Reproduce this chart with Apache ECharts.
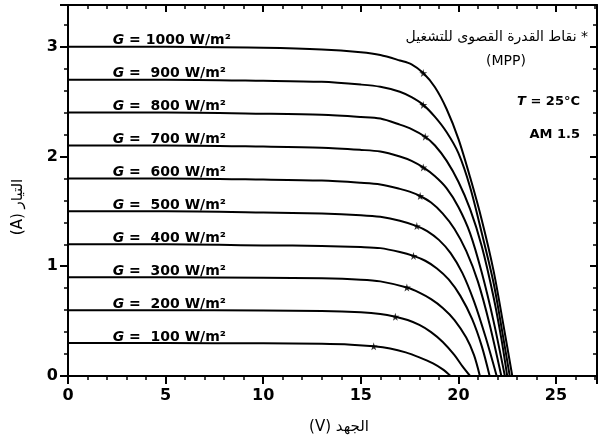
<!DOCTYPE html>
<html>
<head>
<meta charset="utf-8">
<script src="https://cdn.jsdelivr.net/npm/echarts@6/dist/echarts.min.js"></script>
<style>
  html, body { margin: 0; padding: 0; background: #fff; }
  #chart { width: 599px; height: 442px; }
</style>
</head>
<body>
<div id="chart"></div>
<script>
// irradiance levels, W/m²
const levels = [1000, 900, 800, 700, 600, 500, 400, 300, 200, 100]

// I-V curves: [voltage V, current A]
const curve1000 = [[0,3.00],[5,3.00],[10,2.99],[13,2.975],[15,2.95],[16,2.925],[17,2.875],[17.6,2.84],[18.2,2.76],[18.8,2.63],[19.4,2.43],[20.0,2.16],[20.6,1.81],[21.2,1.42],[21.8,0.96],[22.3,0.47],[22.76,0]]
const curve900 = [[0,2.70],[5,2.70],[10,2.69],[13,2.68],[15,2.655],[16,2.635],[17,2.59],[17.6,2.54],[18.2,2.47],[18.8,2.36],[19.4,2.22],[20.0,2.03],[20.6,1.72],[21.2,1.30],[21.8,0.85],[22.25,0.40],[22.63,0]]
const curve800 = [[0,2.40],[5,2.40],[10,2.39],[13,2.38],[15,2.36],[16,2.345],[17,2.29],[17.6,2.25],[18.3,2.18],[18.8,2.10],[19.4,1.96],[20.0,1.77],[20.6,1.52],[21.2,1.18],[21.8,0.72],[22.2,0.34],[22.5,0]]
const curve700 = [[0,2.10],[5,2.10],[10,2.09],[13,2.08],[15,2.06],[16,2.045],[17,2.00],[17.6,1.96],[18.2,1.90],[18.8,1.82],[19.4,1.71],[20.0,1.54],[20.6,1.30],[21.2,0.94],[21.8,0.50],[22.38,0]]
const curve600 = [[0,1.80],[5,1.80],[10,1.79],[13,1.78],[15,1.76],[16,1.745],[17,1.705],[17.5,1.68],[18.04,1.64],[18.6,1.58],[19.2,1.48],[19.8,1.34],[20.4,1.14],[21.0,0.86],[21.6,0.47],[22.2,0]]
const curve500 = [[0,1.50],[5,1.50],[10,1.49],[13,1.48],[15,1.465],[16,1.45],[17,1.415],[17.87,1.366],[18.4,1.32],[19.0,1.24],[19.6,1.12],[20.2,0.94],[20.8,0.68],[21.4,0.35],[21.96,0]]
const curve400 = [[0,1.20],[5,1.20],[10,1.19],[13,1.185],[15,1.175],[16,1.165],[17,1.13],[17.7,1.094],[18.3,1.05],[18.9,0.98],[19.5,0.88],[20.1,0.73],[20.7,0.52],[21.2,0.27],[21.6,0]]
const curve300 = [[0,0.90],[5,0.90],[10,0.895],[13,0.89],[15,0.878],[16,0.862],[17.36,0.806],[18.0,0.76],[18.6,0.70],[19.2,0.62],[19.8,0.51],[20.4,0.35],[20.8,0.19],[21.1,0]]
const curve200 = [[0,0.60],[5,0.60],[10,0.597],[13,0.592],[15,0.58],[16,0.565],[16.77,0.54],[17.4,0.51],[18.0,0.465],[18.6,0.40],[19.2,0.31],[19.8,0.19],[20.2,0.09],[20.6,0]]
const curve100 = [[0,0.30],[5,0.30],[10,0.298],[13,0.293],[14.5,0.285],[15.66,0.27],[16.5,0.25],[17.3,0.215],[18.0,0.17],[18.7,0.115],[19.2,0.06],[19.6,0]]
const curves = [curve1000, curve900, curve800, curve700, curve600, curve500, curve400, curve300, curve200, curve100]

// maximum power points (stars)
const mppV = [18.2, 18.2, 18.3, 18.2, 18.04, 17.87, 17.7, 17.36, 16.77, 15.66]
const mppI = [2.76, 2.47, 2.18, 1.90, 1.64, 1.366, 1.094, 0.806, 0.54, 0.27]

const labelV = 2.29
const font = 'DejaVu Sans'
const star = 'path://M50,0 L61,35 L98,35 L68,57 L79,91 L50,70 L21,91 L32,57 L2,35 L39,35 Z'

const chart = echarts.init(document.getElementById('chart'))

const xBase = {
  type: 'value', min: 0, max: 27.1, interval: 5,
  splitLine: { show: false },
  axisLine: { onZero: false, lineStyle: { color: '#000', width: 2 } }
}
const yBase = {
  type: 'value', min: 0, max: 3.38, interval: 1,
  splitLine: { show: false },
  axisLine: { onZero: false, lineStyle: { color: '#000', width: 2 } }
}

const lineSeries = curves.map((c, i) => ({
  type: 'line',
  data: c,
  symbol: 'none',
  smooth: 0.3,
  lineStyle: { color: '#000', width: 2 },
  markPoint: {
    symbolSize: 0,
    data: [{
      coord: [labelV, c[0][1]],
      label: {
        show: true,
        position: 'right',
        distance: 0,
        offset: [0, -6],
        color: '#000',
        fontFamily: font,
        fontWeight: 'bold',
        fontSize: 14,
        formatter: '{g|G} =' + (levels[i] < 1000 ? '  ' : ' ') + levels[i] + ' W/m²',
        rich: { g: { fontStyle: 'italic', fontFamily: font, fontWeight: 'bold', fontSize: 14, color: '#000' } }
      }
    }]
  }
}))

chart.setOption({
  animation: false,
  grid: { left: 68, right: 2, top: 5, bottom: 66 },
  xAxis: [
    Object.assign({}, xBase, {
      position: 'bottom',
      axisTick: { length: 8, lineStyle: { color: '#000', width: 2 } },
      minorTick: { show: true, splitNumber: 5, length: 4, lineStyle: { color: '#000', width: 1.5 } },
      axisLabel: { color: '#000', fontFamily: font, fontWeight: 'bold', fontSize: 16, margin: 12, showMaxLabel: false }
    }),
    Object.assign({}, xBase, {
      position: 'top',
      axisTick: { inside: true, length: 7, lineStyle: { color: '#000', width: 2 } },
      minorTick: { show: true, splitNumber: 5, length: 4, lineStyle: { color: '#000', width: 1.5 } },
      axisLabel: { show: false }
    })
  ],
  yAxis: [
    Object.assign({}, yBase, {
      position: 'left',
      axisTick: { length: 8, lineStyle: { color: '#000', width: 2 } },
      minorTick: { show: true, splitNumber: 5, length: 4, lineStyle: { color: '#000', width: 1.5 } },
      axisLabel: { color: '#000', fontFamily: font, fontWeight: 'bold', fontSize: 16, margin: 10, showMaxLabel: false }
    }),
    Object.assign({}, yBase, {
      position: 'right',
      axisTick: { inside: true, length: 7, lineStyle: { color: '#000', width: 2 } },
      minorTick: { show: true, splitNumber: 5, length: 4, lineStyle: { color: '#000', width: 1.5 } },
      axisLabel: { show: false }
    })
  ],
  series: lineSeries.concat([{
    type: 'scatter',
    data: mppV.map((v, i) => [v, mppI[i]]),
    symbol: star,
    symbolSize: 8,
    itemStyle: { color: '#000' },
    z: 5
  }]),
  graphic: [
    { type: 'text', x: 588, y: 37, style: { text: 'نقاط القدرة القصوى للتشغيل *', fill: '#000', fontFamily: font, fontSize: 14, align: 'right', verticalAlign: 'middle' } },
    { type: 'text', x: 506, y: 61, style: { text: '(MPP)', fill: '#000', fontFamily: font, fontSize: 14, align: 'center', verticalAlign: 'middle' } },
    { type: 'text', x: 580, y: 102, style: { text: '{t|T} = 25°C', fill: '#000', fontFamily: font, fontWeight: 'bold', fontSize: 13, align: 'right', verticalAlign: 'middle',
      rich: { t: { fontStyle: 'italic', fontFamily: font, fontWeight: 'bold', fontSize: 13 } } } },
    { type: 'text', x: 580, y: 135, style: { text: 'AM 1.5', fill: '#000', fontFamily: font, fontWeight: 'bold', fontSize: 13, align: 'right', verticalAlign: 'middle' } },
    { type: 'text', x: 339, y: 427, style: { text: '(V) الجهد', fill: '#000', fontFamily: font, fontSize: 15, align: 'center', verticalAlign: 'middle' } },
    { type: 'text', x: 18, y: 207, rotation: Math.PI / 2, style: { text: '(A) التيار', fill: '#000', fontFamily: font, fontSize: 15, align: 'center', verticalAlign: 'middle' } }
  ]
})
</script>
</body>
</html>
